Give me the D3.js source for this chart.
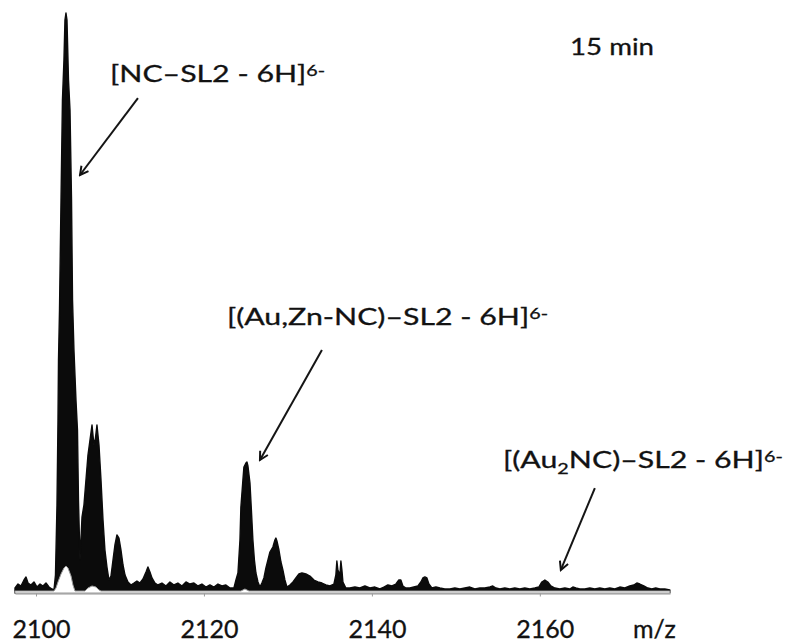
<!DOCTYPE html>
<html>
<head>
<meta charset="utf-8">
<script src="https://cdn.jsdelivr.net/npm/d3@7"></script>
<style>
  body { margin: 0; background: #fff; }
  svg { display: block; }
  text { font-family: Lato, "Open Sans", sans-serif; fill: #121212; }
</style>
</head>
<body>
<svg id="chart" width="786" height="642"></svg>
<script>
// m/z and relative intensity of the upper envelope of the overlaid spectra
var mz = [2097.50, 2097.86, 2098.21, 2098.57, 2098.81, 2099.05, 2099.40, 2099.76, 2100.12, 2100.48,
  2100.83, 2101.19, 2101.55, 2101.90, 2102.14, 2102.32, 2102.50, 2102.62, 2102.68, 2102.80,
  2102.98, 2103.15, 2103.33, 2103.45, 2103.57, 2103.69, 2103.87, 2104.05, 2104.23, 2104.35,
  2104.52, 2104.76, 2104.94, 2105.06, 2105.24, 2105.48, 2105.71, 2105.95, 2106.19, 2106.43,
  2106.67, 2106.90, 2107.08, 2107.26, 2107.50, 2107.74, 2107.98, 2108.21, 2108.45, 2108.69,
  2108.93, 2109.17, 2109.40, 2109.64, 2109.88, 2110.12, 2110.36, 2110.60, 2110.95, 2111.31,
  2111.67, 2112.02, 2112.38, 2112.74, 2113.10, 2113.33, 2113.57, 2113.81, 2114.17, 2114.52,
  2115.00, 2115.48, 2115.95, 2116.43, 2116.90, 2117.38, 2117.86, 2118.33, 2118.81, 2119.29,
  2119.76, 2120.24, 2120.71, 2121.19, 2121.67, 2122.14, 2122.62, 2123.10, 2123.57, 2123.81,
  2124.05, 2124.29, 2124.40, 2124.64, 2124.76, 2125.00, 2125.12, 2125.24, 2125.48, 2125.65,
  2125.83, 2126.01, 2126.19, 2126.43, 2126.67, 2126.90, 2127.14, 2127.38, 2127.62, 2127.86,
  2128.21, 2128.45, 2128.57, 2128.69, 2128.93, 2129.17, 2129.40, 2129.64, 2129.88, 2130.24,
  2130.60, 2130.95, 2131.31, 2131.67, 2132.14, 2132.62, 2133.10, 2133.57, 2134.05, 2134.52,
  2135.00, 2135.48, 2135.71, 2135.83, 2135.95, 2136.19, 2136.31, 2136.43, 2136.55, 2136.90,
  2137.38, 2137.98, 2138.57, 2139.17, 2139.76, 2140.36, 2140.95, 2141.43, 2141.90, 2142.38,
  2142.86, 2143.21, 2143.45, 2143.69, 2144.05, 2144.52, 2145.00, 2145.48, 2145.83, 2146.07,
  2146.31, 2146.55, 2146.79, 2147.14, 2147.62, 2148.10, 2148.69, 2149.29, 2149.88, 2150.48,
  2151.07, 2151.67, 2152.26, 2152.86, 2153.45, 2154.05, 2154.40, 2154.76, 2155.24, 2155.83,
  2156.43, 2157.02, 2157.62, 2158.21, 2158.81, 2159.40, 2159.88, 2160.24, 2160.60, 2160.95,
  2161.31, 2161.79, 2162.38, 2162.98, 2163.57, 2163.93, 2164.29, 2164.76, 2165.36, 2165.95,
  2166.55, 2167.14, 2167.74, 2168.33, 2168.93, 2169.52, 2170.12, 2170.71, 2171.19, 2171.55,
  2171.90, 2172.38, 2172.86, 2173.33, 2173.81, 2174.29, 2174.88, 2175.48];
var intensity = [0.86, 1.55, 1.21, 2.24, 2.76, 1.72, 1.38, 1.90, 1.03, 1.55,
  1.21, 1.72, 1.03, 0.69, 0.52, 3.10, 15.17, 29.83, 40.17, 48.79,
  67.76, 85.00, 91.90, 98.79, 100, 98.79, 88.45, 83.28, 67.76, 50.52,
  41.90, 33.28, 28.10, 15.86, 5.69, 13.10, 15.17, 19.48, 23.79, 26.38,
  28.97, 25.52, 26.72, 28.97, 25.52, 19.48, 12.59, 7.41, 4.48, 2.24,
  2.93, 5.69, 8.28, 10.00, 9.48, 7.41, 4.83, 3.10, 1.90, 1.38,
  1.72, 2.07, 1.72, 2.41, 3.62, 4.48, 3.62, 2.59, 1.72, 1.38,
  1.72, 1.21, 1.90, 1.38, 1.72, 1.21, 1.90, 1.55, 1.72, 1.21,
  1.55, 1.03, 1.38, 1.03, 1.55, 1.21, 1.38, 0.86, 0.86, 2.24,
  3.45, 9.14, 14.83, 19.48, 21.72, 22.41, 22.59, 21.90, 18.97, 14.31,
  9.14, 5.69, 3.45, 1.90, 1.03, 1.72, 2.59, 4.31, 5.69, 7.07,
  7.93, 9.14, 9.48, 8.97, 7.41, 5.34, 3.97, 2.24, 1.03, 1.38,
  1.90, 2.59, 3.28, 3.45, 3.28, 2.93, 2.24, 1.90, 1.72, 1.38,
  1.21, 1.55, 3.10, 5.52, 3.97, 3.10, 5.52, 3.97, 1.90, 0.86,
  0.86, 1.03, 0.86, 1.21, 0.86, 1.03, 0.69, 1.03, 1.38, 1.21,
  1.55, 2.24, 2.24, 1.21, 0.86, 0.86, 1.03, 1.21, 1.90, 2.59,
  2.76, 2.59, 1.55, 0.86, 1.03, 0.86, 0.69, 0.69, 0.86, 0.69,
  0.86, 1.03, 0.69, 0.86, 0.86, 1.03, 1.21, 0.86, 0.69, 0.86,
  0.69, 0.86, 0.69, 0.86, 0.69, 0.86, 1.03, 1.90, 2.24, 1.90,
  1.21, 0.86, 0.69, 0.86, 0.69, 1.03, 0.86, 0.69, 0.69, 0.86,
  0.69, 0.86, 0.69, 0.86, 0.69, 1.03, 0.86, 1.21, 1.38, 1.72,
  1.55, 1.21, 0.86, 0.69, 0.86, 0.69, 0.69, 0.52];

// lowest trace (grey, shows through under the main peak)
var innerMz = [2097.50, 2102.14, 2102.38, 2102.62, 2102.98, 2103.33, 2103.57, 2103.81, 2104.17, 2104.40,
  2104.64, 2105.83, 2106.19, 2106.67, 2107.14, 2107.50, 2107.74, 2124.40, 2124.88, 2125.36, 2175.48];
var innerIntensity = [0.34, 0.34, 0.86, 1.90, 3.28, 4.31, 4.66, 4.31, 2.93, 1.38,
  0.34, 0.34, 0.86, 1.21, 1.03, 0.52, 0.34, 0.34, 0.69, 0.34, 0.34];

var tickValues = [2100, 2120, 2140, 2160];

// annotation arrows: [tail m/z, tail intensity, head m/z, head intensity]
var arrows = [
  [2112.14, 85.34, 2105.24, 72.07],
  [2134.05, 41.90, 2126.67, 22.93],
  [2166.55, 18.10, 2162.50, 3.97]
];

var svg = d3.select("#chart");

var x = d3.scaleLinear().domain([2097.5, 2175.5]).range([15, 670]);
var y = d3.scaleLinear().domain([0, 100]).range([593, 13]);

var defs = svg.append("defs");
defs.append("marker")
  .attr("id", "head")
  .attr("viewBox", "0 0 10 10")
  .attr("refX", 8.5)
  .attr("refY", 5)
  .attr("markerWidth", 5.5)
  .attr("markerHeight", 5.5)
  .attr("orient", "auto")
  .append("path")
  .attr("d", "M1,1 L8.5,5 L1,9")
  .attr("fill", "none")
  .attr("stroke", "#111")
  .attr("stroke-width", 1.8);

var spectrum = d3.zip(mz, intensity);
var inner = d3.zip(innerMz, innerIntensity);

var area = d3.area()
  .x((d) => x(d[0]))
  .y0(y(0))
  .y1((d) => y(d[1]));

svg.append("path")
  .attr("d", area(spectrum))
  .attr("fill", "#0b0b0b")
  .attr("stroke", "#0b0b0b")
  .attr("stroke-width", 1.4)
  .attr("stroke-linejoin", "round");

svg.append("path")
  .attr("d", area(inner))
  .attr("fill", "#fff")
  .attr("stroke", "#9a9a9a")
  .attr("stroke-width", 1);

// axis
var axis = svg.append("g")
  .attr("transform", "translate(0," + (y(0) + 0.5) + ")")
  .call(
    d3.axisBottom(x)
      .tickValues(tickValues)
      .tickFormat(d3.format("d"))
      .tickSize(3)
      .tickSizeOuter(0)
  );
axis.select(".domain").attr("stroke", "#b8b8b8").attr("stroke-width", 1.5);
axis.selectAll(".tick line").attr("stroke", "#9a9a9a");
axis.selectAll(".tick text")
  .attr("y", 44)
  .attr("dy", 0)
  .attr("dx", 5)
  .attr("font-size", 25)
  .attr("font-family", "Lato, sans-serif")
  .attr("fill", "#121212")
  .attr("stroke", "#121212")
  .attr("stroke-width", 0.3);

svg.append("text")
  .attr("x", 633)
  .attr("y", 638)
  .attr("font-size", 25)
  .attr("stroke", "#121212")
  .attr("stroke-width", 0.3)
  .text("m/z");

// arrows
svg.selectAll(".arrow")
  .data(arrows)
  .enter()
  .append("line")
  .attr("class", "arrow")
  .attr("x1", (d) => x(d[0]))
  .attr("y1", (d) => y(d[1]))
  .attr("x2", (d) => x(d[2]))
  .attr("y2", (d) => y(d[3]))
  .attr("stroke", "#151515")
  .attr("stroke-width", 2)
  .attr("marker-end", "url(#head)");

// labels
function label(px, py, anchor, parts) {
  var g = svg.append("g").attr("transform", "translate(" + px + "," + py + ")");
  var t = g.append("text")
    .attr("font-size", 23)
    .attr("text-anchor", anchor)
    .attr("stroke", "#121212")
    .attr("stroke-width", 0.3);
  parts.forEach(function (p) {
    var s = t.append("tspan").text(p[0]);
    if (p[1] === "sup") s.attr("font-size", 15).attr("dy", -6);
    if (p[1] === "sub") s.attr("font-size", 15).attr("dy", 6);
    if (p[1] === "back") s.attr("dy", p[2]);
  });
  return { g: g, t: t };
}

var l3 = label(503, 468, "start", [["[(Au"], ["2", "sub"], ["NC)–SL2 - 6H]", "back", -6], ["6-", "sup"]]);
var sx = 280 / l3.t.node().getComputedTextLength();

var l1 = label(110, 82, "start", [["[NC–SL2 - 6H]"], ["6-", "sup"]]);
var l2 = label(548, 325, "end", [["[(Au,Zn-NC)–SL2 - 6H]"], ["6-", "sup"]]);
var l4 = label(570, 55, "start", [["15 min"]]);
var sx4 = 84 / l4.t.node().getComputedTextLength();

[l1, l2, l3].forEach(function (l) {
  l.g.attr("transform", l.g.attr("transform") + " scale(" + sx + ",1)");
});
l4.g.attr("transform", l4.g.attr("transform") + " scale(" + sx4 + ",1)");
</script>
</body>
</html>
